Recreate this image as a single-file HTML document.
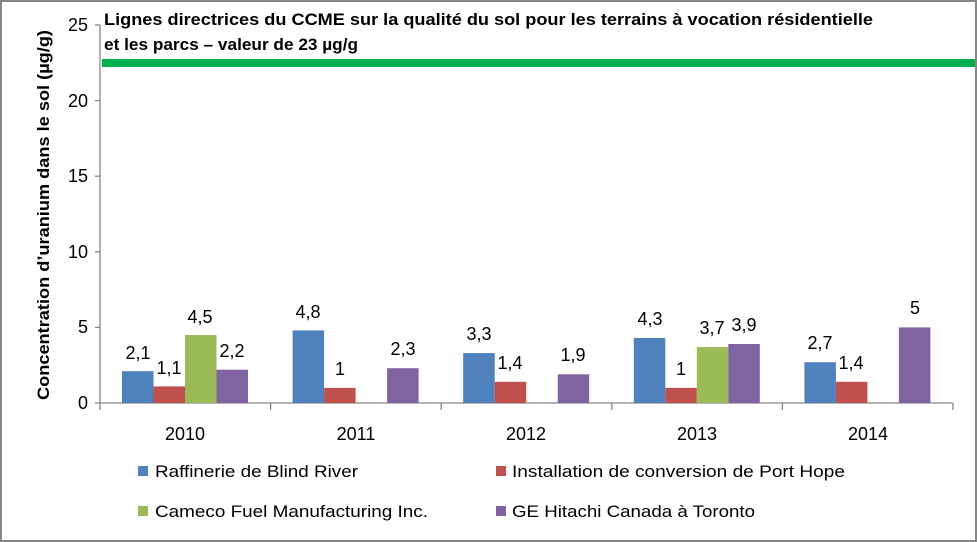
<!DOCTYPE html>
<html><head><meta charset="utf-8"><style>
body{margin:0;background:#fff}
svg{display:block;font-family:"Liberation Sans",sans-serif}
</style></head><body>
<svg width="977" height="542" viewBox="0 0 977 542" xmlns="http://www.w3.org/2000/svg">
<rect x="1" y="1" width="975" height="540" fill="#fff" stroke="#868686" stroke-width="2"/>
<g stroke="#868686" stroke-width="1.3" fill="none">
<line x1="100" y1="25" x2="100" y2="403"/>
<line x1="95" y1="403" x2="953" y2="403"/>
<line x1="95" y1="25" x2="100" y2="25"/>
<line x1="95" y1="100.6" x2="100" y2="100.6"/>
<line x1="95" y1="176.2" x2="100" y2="176.2"/>
<line x1="95" y1="251.8" x2="100" y2="251.8"/>
<line x1="95" y1="327.4" x2="100" y2="327.4"/>
<line x1="100" y1="403" x2="100" y2="410"/>
<line x1="270.6" y1="403" x2="270.6" y2="410"/>
<line x1="441.2" y1="403" x2="441.2" y2="410"/>
<line x1="611.8" y1="403" x2="611.8" y2="410"/>
<line x1="782.4" y1="403" x2="782.4" y2="410"/>
<line x1="953" y1="403" x2="953" y2="410"/>
</g>
<g font-size="18" fill="#000" text-anchor="end">
<text x="88" y="31">25</text><text x="88" y="107">20</text><text x="88" y="182">15</text>
<text x="88" y="258">10</text><text x="88" y="333">5</text><text x="88" y="409">0</text>
</g>
<g font-size="18" text-anchor="middle">
<text x="185" y="440">2010</text><text x="356" y="440">2011</text><text x="526" y="440">2012</text>
<text x="697" y="440">2013</text><text x="868" y="440">2014</text>
</g>
<text transform="translate(49,400) rotate(-90)" font-size="17" font-weight="bold" textLength="370" lengthAdjust="spacingAndGlyphs">Concentration d’uranium dans le sol (µg/g)</text>
<rect x="102" y="59" width="873" height="8" fill="#00b050"/>
<text x="104" y="25" font-size="17" font-weight="bold" textLength="769" lengthAdjust="spacingAndGlyphs">Lignes directrices du CCME sur la qualité du sol pour les terrains à vocation résidentielle</text>
<text x="104" y="50" font-size="17" font-weight="bold" textLength="254" lengthAdjust="spacingAndGlyphs">et les parcs – valeur de 23 µg/g</text>
<g>
<rect x="122" y="371.2" width="31.5" height="31.8" fill="#4f81bd"/>
<rect x="153.5" y="386.4" width="31.5" height="16.6" fill="#c0504d"/>
<rect x="185" y="335" width="31.5" height="68" fill="#9bbb59"/>
<rect x="216.5" y="369.7" width="31.5" height="33.3" fill="#8064a2"/>
<rect x="292.6" y="330.4" width="31.5" height="72.6" fill="#4f81bd"/>
<rect x="324.1" y="387.9" width="31.5" height="15.1" fill="#c0504d"/>
<rect x="387.1" y="368.2" width="31.5" height="34.8" fill="#8064a2"/>
<rect x="463.2" y="353.1" width="31.5" height="49.9" fill="#4f81bd"/>
<rect x="494.7" y="381.8" width="31.5" height="21.2" fill="#c0504d"/>
<rect x="557.7" y="374.3" width="31.5" height="28.7" fill="#8064a2"/>
<rect x="633.8" y="338" width="31.5" height="65" fill="#4f81bd"/>
<rect x="665.3" y="387.9" width="31.5" height="15.1" fill="#c0504d"/>
<rect x="696.8" y="347.1" width="31.5" height="55.9" fill="#9bbb59"/>
<rect x="728.3" y="344" width="31.5" height="59" fill="#8064a2"/>
<rect x="804.4" y="362.2" width="31.5" height="40.8" fill="#4f81bd"/>
<rect x="835.9" y="381.8" width="31.5" height="21.2" fill="#c0504d"/>
<rect x="898.9" y="327.4" width="31.5" height="75.6" fill="#8064a2"/>
</g>
<g font-size="18" text-anchor="middle">
<text x="138" y="359">2,1</text><text x="169" y="374">1,1</text><text x="200" y="323">4,5</text><text x="232" y="357">2,2</text>
<text x="308" y="318">4,8</text><text x="340" y="375">1</text><text x="403" y="355">2,3</text>
<text x="479" y="340">3,3</text><text x="510" y="369">1,4</text><text x="573" y="361">1,9</text>
<text x="650" y="325">4,3</text><text x="681" y="375">1</text><text x="712" y="334">3,7</text><text x="744" y="331">3,9</text>
<text x="820" y="349">2,7</text><text x="851" y="369">1,4</text><text x="915" y="314">5</text>
</g>
<g font-size="17">
<rect x="138" y="466" width="10" height="10" fill="#4f81bd"/><text x="155" y="477" textLength="203" lengthAdjust="spacingAndGlyphs">Raffinerie de Blind River</text>
<rect x="496" y="466" width="10" height="10" fill="#c0504d"/><text x="512" y="477" textLength="333" lengthAdjust="spacingAndGlyphs">Installation de conversion de Port Hope</text>
<rect x="138" y="506" width="10" height="10" fill="#9bbb59"/><text x="155" y="517" textLength="273" lengthAdjust="spacingAndGlyphs">Cameco Fuel Manufacturing Inc.</text>
<rect x="496" y="506" width="10" height="10" fill="#8064a2"/><text x="512" y="517" textLength="243" lengthAdjust="spacingAndGlyphs">GE Hitachi Canada à Toronto</text>
</g>
</svg>
</body></html>
